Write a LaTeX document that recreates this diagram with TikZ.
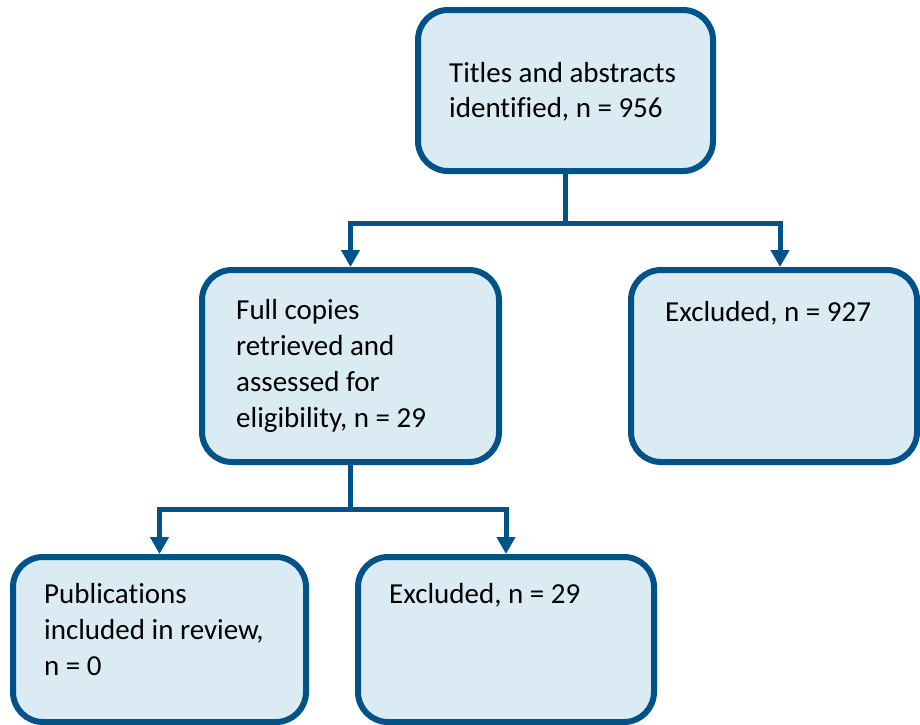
\documentclass[tikz,border=0pt]{standalone}
\usepackage{fontspec}
\setmainfont{Carlito}[Ligatures=NoCommon]
\usetikzlibrary{arrows.meta}
\definecolor{boxblue}{RGB}{0,82,136}
\definecolor{boxfill}{RGB}{218,235,243}
\begin{document}
\begin{tikzpicture}[x=1pt,y=-1pt,
  flowbox/.style={draw=boxblue,fill=boxfill,line width=6pt,rounded corners=30pt,
    rectangle,inner sep=0pt,outer sep=0pt},
  label/.style={anchor=base west,align=left,inner sep=0pt,
    font=\fontsize{29}{36}\selectfont,text=black},
  conn/.style={draw=boxblue,line width=5pt},
  arr/.style={conn,-{Triangle[width=18pt,length=17pt]},shorten >=3pt}]
\useasboundingbox (0,0) rectangle (920,724);
\begin{scope}
\clip (0,0) rectangle (920,724);
\node[flowbox,minimum width=295pt,minimum height=161pt] (b1) at (565.5,90.5) {};
\node[flowbox,minimum width=297pt,minimum height=192pt] (b2) at (350.5,366) {};
\node[flowbox,minimum width=286pt,minimum height=192pt] (b3) at (774,366) {};
\node[flowbox,minimum width=293pt,minimum height=165pt] (b4) at (159.5,639.5) {};
\node[flowbox,minimum width=296pt,minimum height=165pt] (b5) at (506,639.5) {};
\end{scope}
\node[label,font=\fontsize{29}{35}\selectfont] (t1) at (449,117) {Titles and abstracts\\identified, n = 956};
\node[label] (t2) at (236,427) {Full copies\\retrieved and\\assessed for\\eligibility, n = 29};
\node[label] (t3) at (665,321) {Excluded, n = 927};
\node[label] (t4) at (44,675) {Publications\\included in review,\\n = 0};
\node[label] (t5) at (389,603) {Excluded, n = 29};
\draw[conn] (b1.south) -- (b1.south |- 0,223) coordinate (j1);
\draw[arr] (j1) -| (b2.north);
\draw[arr] (j1) -| ([xshift=6pt]b3.north);
\draw[conn] (b2.south) -- (b2.south |- 0,509) coordinate (j2);
\draw[arr] (j2) -| (b4.north);
\draw[arr] (j2) -| (b5.north);
\end{tikzpicture}
\end{document}
